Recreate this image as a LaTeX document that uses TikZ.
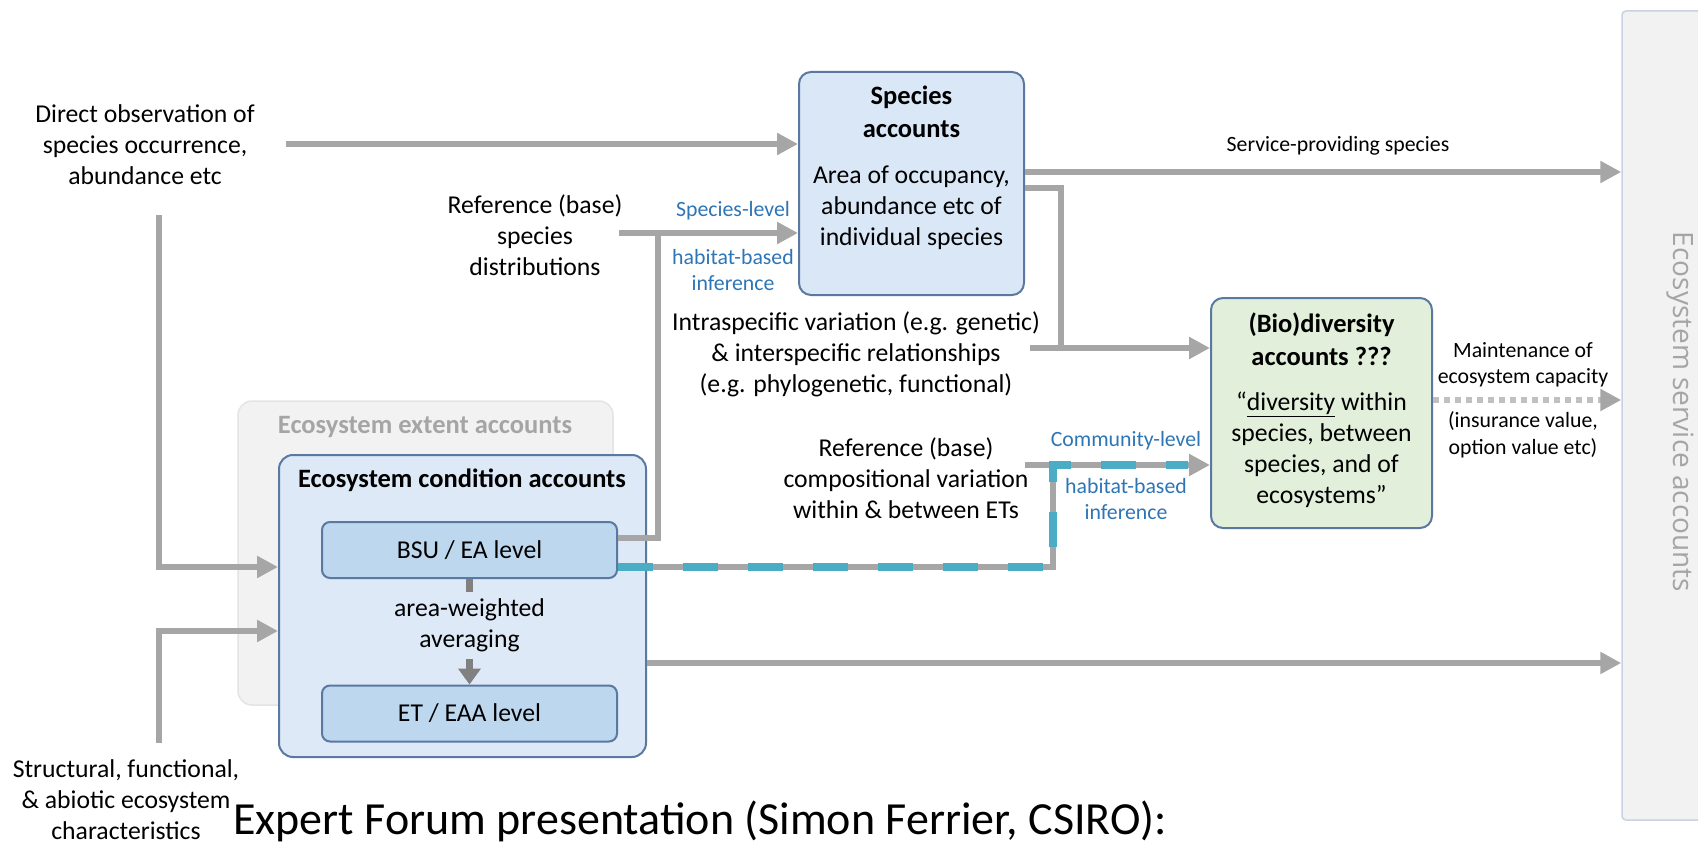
\documentclass[tikz,border=0pt]{standalone}
\usepackage{fontspec}
\setmainfont{Carlito}
\newfontfamily\panelfont{Open Sans}
\usetikzlibrary{arrows.meta}

\definecolor{flowgrey}{RGB}{166,166,166}
\definecolor{dotgrey}{RGB}{192,192,192}
\definecolor{avggrey}{RGB}{128,128,128}
\definecolor{inferblue}{RGB}{46,117,182}
\definecolor{dashblue}{RGB}{75,172,198}
\definecolor{spfill}{RGB}{218,231,246}
\definecolor{boxedge}{RGB}{91,121,160}
\definecolor{condfill}{RGB}{221,233,246}
\definecolor{levelfill}{RGB}{189,215,238}
\definecolor{divfill}{RGB}{226,239,218}
\definecolor{panelgrey}{RGB}{242,242,242}
\definecolor{paneledge}{RGB}{200,210,228}
\definecolor{extentedge}{RGB}{228,228,228}
\definecolor{labelgrey}{RGB}{165,165,165}

\newcommand{\mainsz}{\fontsize{25.7pt}{31pt}\selectfont}
\newcommand{\smallsz}{\fontsize{21.8pt}{26.5pt}\selectfont}
\newcommand{\headsz}{\fontsize{26.5pt}{33pt}\selectfont\bfseries}

\tikzset{
  txt/.style={align=center,font=\mainsz,inner sep=0pt},
  smalltxt/.style={align=center,font=\smallsz,inner sep=0pt},
  infer/.style={smalltxt,text=inferblue},
  acctbox/.style={draw=boxedge,line width=2pt,rounded corners=12pt},
  levelbox/.style={draw=boxedge,line width=2pt,rounded corners=8pt,fill=levelfill,
    minimum width=295,minimum height=56,font=\mainsz},
  flow/.style={draw=flowgrey,line width=6pt,-{Triangle[length=21pt,width=21pt]}},
  link/.style={draw=flowgrey,line width=6pt},
  dotflow/.style={draw=dotgrey,line width=6pt,dash pattern=on 6pt off 5pt,
    -{Triangle[length=21pt,width=21pt,color=flowgrey]}},
  commdash/.style={draw=dashblue,line width=8pt,dash pattern=on 35pt off 30pt},
  avgflow/.style={draw=avggrey,line width=7pt,-{Triangle[length=16pt,width=22pt]}}
}

\begin{document}
\begin{tikzpicture}[x=1pt,y=-1pt]
  \useasboundingbox (0,0) rectangle (1698,845);

  % accounts boxes
  \node[draw=paneledge,line width=1.5pt,fill=panelgrey,rounded corners=4pt,
    minimum width=100,minimum height=809] (esa) at (1672,415.5) {};
  \node[draw=extentedge,line width=1.5pt,fill=panelgrey,rounded corners=14pt,
    minimum width=375,minimum height=304] (extent) at (425.5,553) {};
  \node[acctbox,fill=condfill,rounded corners=14pt,
    minimum width=367,minimum height=302] (cond) at (462.5,606) {};
  \node[acctbox,fill=spfill,minimum width=225,minimum height=223] (species) at (911.5,183.5) {};
  \node[acctbox,fill=divfill,minimum width=221,minimum height=230] (div) at (1321.5,413) {};
  \node[levelbox] (bsu) at (469.5,550) {BSU / EA level};
  \node[levelbox] (et) at (469.5,713.5) {ET / EAA level};

  % box texts
  \node[txt,font=\headsz,text=labelgrey] (extenttitle) at (425,427) {Ecosystem extent accounts};
  \node[txt,font=\headsz] (condtitle) at (462,480) {Ecosystem condition accounts};
  \node[txt,font=\headsz] (sptitle) at (911.5,112) {Species\\accounts};
  \node[txt] (spbody) at (911.5,208) {Area of occupancy,\\abundance etc of\\individual species};
  \node[txt,font=\headsz] (divtitle) at (1321.5,339) {(Bio)diversity\\accounts ???};
  \node[txt] (divbody) at (1321.5,450) {“\underline{diversity} within\\species, between\\species, and of\\ecosystems”};
  \node[txt,text=labelgrey,font=\panelfont\fontsize{28pt}{34pt}\selectfont,rotate=-90]
    (esatext) at (1680,412) {Ecosystem service accounts};

  % free texts
  \node[txt] (obs) at (145,145) {Direct observation of\\species occurrence,\\abundance etc};
  \node[txt] (refsp) at (535,235) {Reference (base)\\species\\distributions};
  \node[txt] (intra) at (856,354) {Intraspecific variation (e.g. genetic)\\\& interspecific relationships\\(e.g. phylogenetic, functional)};
  \node[txt] (refcomp) at (906,478) {Reference (base)\\compositional variation\\within \& between ETs};
  \node[txt] (struct) at (126,800) {Structural, functional,\\\& abiotic ecosystem\\characteristics};
  \node[infer] (splevel) at (733,211) {Species-level};
  \node[infer] (sphabitat) at (733,270) {habitat-based\\inference};
  \node[infer] (commlevel) at (1126,441) {Community-level};
  \node[infer] (commhabitat) at (1126,499) {habitat-based\\inference};
  \node[smalltxt] (servlabel) at (1338,146) {Service-providing species};
  \node[smalltxt] (maint) at (1523,365) {Maintenance of\\ecosystem capacity};
  \node[smalltxt] (insur) at (1523,435) {(insurance value,\\option value etc)};
  \node[anchor=base west,inner sep=0pt,font=\fontsize{46pt}{54pt}\selectfont]
    (forum) at (233,834) {Expert Forum presentation (Simon Ferrier, CSIRO):};

  % free ends of connectors
  \coordinate (obsout) at (286,144);
  \coordinate (obsdown) at (159,215);
  \coordinate (structup) at (159,743);
  \coordinate (refspout) at (619,233);
  \coordinate (spjoin) at (658,233);
  \coordinate (divjoin) at (1061,348);
  \coordinate (intraout) at (1030,348);
  \coordinate (compout) at (1025,465);
  \coordinate (commjoin) at (1053,465);

  % connectors
  \draw[flow] (obsout) -- (obsout -| species.west);
  \draw[flow] (obsdown) |- ([yshift=39pt]cond.west);
  \draw[flow] (structup) |- ([yshift=-25pt]cond.west);
  \draw[flow] (refspout) -- ([yshift=-49.5pt]species.west);
  \draw[link] ([yshift=12pt]bsu.east) -| (spjoin);
  \draw[flow] ([yshift=11.5pt]species.east) -- ([yshift=11.5pt]species.east -| esa.west);
  \draw[link] ([yshift=-4.5pt]species.east) -| (divjoin);
  \draw[flow] (intraout) -- ([yshift=65pt]div.west);
  \draw[link] ([yshift=-17pt]bsu.east) -| (commjoin);
  \draw[flow] (compout) -- ([yshift=-52pt]div.west);
  \draw[commdash] ([yshift=-17pt]bsu.east) -| (commjoin) -- ([xshift=-22pt,yshift=-52pt]div.west);
  \draw[dotflow] ([yshift=13pt]div.east) -- ([yshift=13pt]div.east -| esa.west);
  \draw[flow] ([yshift=-57pt]cond.east) -- ([yshift=-57pt]cond.east -| esa.west);
  \draw[avgflow] (bsu.south) -- (et.north)
    node[pos=0.44,txt,fill=condfill,inner xsep=4pt,inner ysep=7pt] (avg) {area-weighted\\averaging};
\end{tikzpicture}
\end{document}
